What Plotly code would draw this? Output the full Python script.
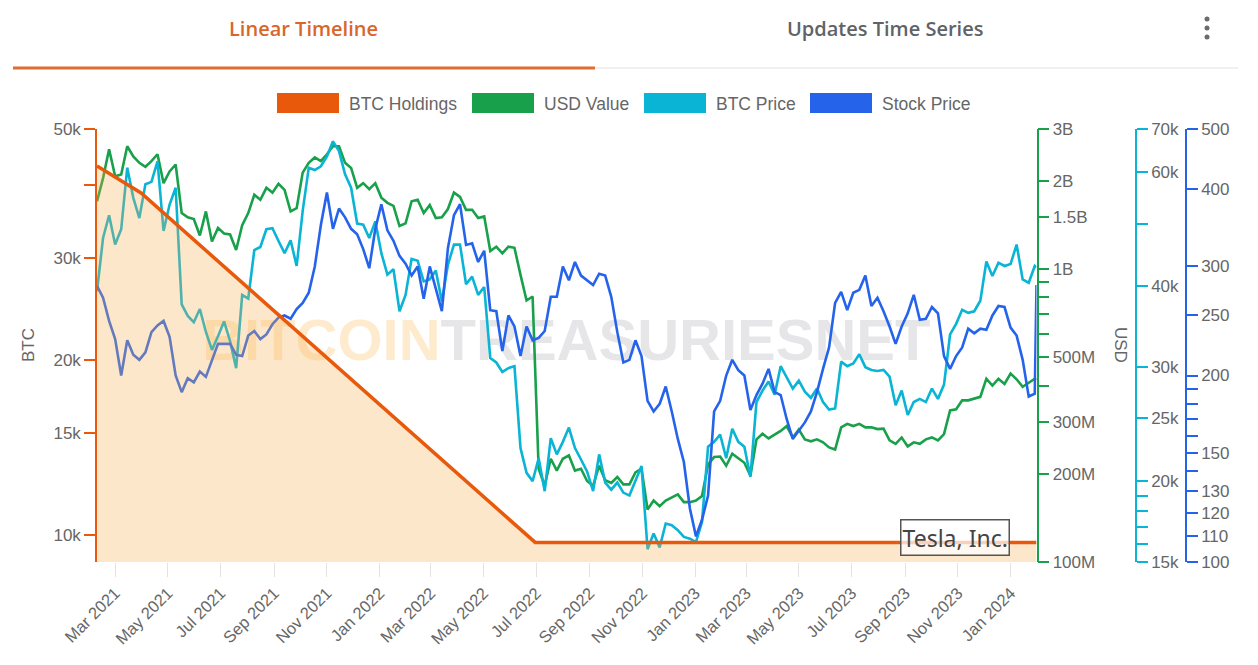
import math
import pandas as pd
import plotly.graph_objects as go

# ---------------- data ----------------
week_dates = list(pd.date_range("2021-02-08", periods=156, freq="7D").strftime("%Y-%m-%d")) + ["2024-01-31"]

btc_price_k = [
    39.3, 47.5, 51.5, 46.4, 49.0, 61.0, 54.8, 51.0, 57.5, 58.0,
    62.4, 48.7, 53.5, 56.8, 37.5, 36.0, 35.2, 36.9, 34.0, 31.9,
    33.5, 35.3, 32.9, 29.9, 38.8, 38.3, 45.5, 46.0, 49.0, 49.2,
    47.0, 45.0, 47.1, 43.0, 52.3, 61.0, 60.5, 61.3, 63.5, 67.0,
    64.7, 59.6, 56.8, 50.0, 49.8, 47.5, 50.4, 45.0, 41.7, 42.5,
    36.6, 38.8, 44.1, 43.8, 40.7, 41.0, 42.3, 37.9, 43.2, 46.4,
    46.4, 40.3, 41.4, 38.8, 39.9, 31.0, 30.5, 29.5, 29.9, 30.1,
    22.5, 20.6, 20.0, 21.7, 19.3, 23.3, 22.0, 23.0, 24.2, 22.5,
    21.6, 20.7, 19.3, 22.0, 19.9, 19.4, 19.9, 19.2, 19.0, 20.0,
    21.1, 15.7, 16.6, 15.8, 17.2, 17.1, 16.8, 16.4, 16.3, 16.1,
    17.3, 22.6, 23.0, 23.6, 21.7, 24.1, 23.0, 22.6, 20.3, 26.5,
    27.6, 28.5, 27.2, 30.1, 29.0, 27.8, 28.6, 27.5, 26.9, 27.8,
    26.5, 25.8, 25.9, 30.6, 30.1, 30.4, 31.4, 30.0, 29.7, 29.6,
    29.7, 29.0, 26.2, 27.6, 25.3, 26.5, 26.8, 26.5, 27.8, 26.8,
    28.2, 33.7, 35.0, 36.8, 36.4, 36.6, 38.0, 43.7, 41.5, 43.5,
    43.0, 43.3, 46.4, 41.0, 40.5, 43.0, 42.8,
]

usd_value_m = [
    1700, 2040, 2560, 2070, 2100, 2620, 2420, 2300, 2230, 2330,
    2460, 1960, 2150, 2270, 1550, 1500, 1480, 1300, 1570, 1240,
    1380, 1320, 1310, 1160, 1410, 1550, 1790, 1720, 1890, 1820,
    1950, 1860, 1570, 1610, 2130, 2300, 2400, 2330, 2460, 2620,
    2620, 2300, 2210, 1890, 1960, 1870, 1960, 1750, 1680, 1640,
    1400, 1430, 1700, 1720, 1550, 1650, 1490, 1500, 1600, 1820,
    1760, 1590, 1590, 1490, 1510, 1150, 1190, 1130, 1190, 1180,
    954, 780, 805, 208, 182, 225, 205, 225, 231, 205,
    208, 189, 182, 213, 190, 186, 195, 184, 184, 202,
    208, 151, 162, 155, 162, 166, 170, 160, 160, 162,
    168, 215, 228, 229, 213, 234, 225, 218, 197, 262,
    274, 264, 272, 280, 291, 266, 283, 262, 258, 262,
    256, 246, 242, 288, 296, 291, 296, 288, 288, 284,
    285, 260, 253, 266, 248, 256, 253, 262, 266, 260,
    273, 329, 332, 356, 356, 360, 366, 422, 400, 422,
    405, 439, 420, 396, 410, 422, 418,
]

stock_price = [
    279, 267, 245, 229, 200, 228, 216, 212, 218, 235,
    241, 245, 231, 200, 188, 198, 195, 203, 199, 212,
    225, 225, 225, 216, 215, 232, 236, 229, 233, 242,
    248, 250, 247, 256, 262, 272, 300, 350, 395, 345,
    372, 360, 345, 338, 320, 298, 345, 378, 343, 330,
    312, 303, 290, 300, 266, 300, 275, 254, 321, 363,
    378, 325, 327, 305, 318, 255, 254, 219, 250, 240,
    215, 240, 228, 230, 236, 268, 268, 300, 285, 305,
    290, 285, 280, 292, 290, 268, 235, 210, 212, 228,
    215, 182, 175, 180, 192, 175, 158, 145, 122, 110,
    117, 128, 175, 182, 200, 212, 204, 200, 176, 186,
    194, 205, 188, 186, 170, 158, 163, 168, 175, 188,
    205, 222, 262, 273, 255, 272, 275, 290, 259, 267,
    254, 240, 225, 240, 252, 270, 246, 247, 258, 252,
    215, 205, 215, 222, 238, 234, 238, 237, 250, 259,
    258, 239, 232, 212, 185, 187, 280,
]

holdings_dates = ["2021-02-08", "2021-03-31", "2022-06-30", "2022-09-30", "2022-12-31",
                  "2023-03-31", "2023-06-30", "2023-09-30", "2023-12-31", "2024-01-31"]
btc_holdings = [43200, 38800, 9720, 9720, 9720, 9720, 9720, 9720, 9720, 9720]

legend_labels = ["BTC Holdings", "USD Value", "BTC Price", "Stock Price"]

btc_ticks = [10000, 15000, 20000, 30000, 40000, 50000]
btc_ticktext = ["10k", "15k", "20k", "30k", "", "50k"]
usd_ticks = [1e8, 2e8, 3e8, 4e8, 5e8, 6e8, 7e8, 8e8, 9e8, 1e9, 1.5e9, 2e9, 3e9]
usd_ticktext = ["100M", "200M", "300M", "", "500M", "", "", "", "", "1B", "1.5B", "2B", "3B"]
price_ticks = [15000, 16000, 17000, 18000, 19000, 20000, 25000, 30000, 40000, 50000, 60000, 70000]
price_ticktext = ["15k", "", "", "", "", "20k", "25k", "30k", "40k", "", "60k", "70k"]
stock_ticks = [100, 110, 120, 130, 140, 150, 160, 170, 180, 190, 200, 250, 300, 400, 500]
stock_ticktext = ["100", "110", "120", "130", "", "150", "", "", "", "", "200", "250", "300", "400", "500"]

# ---------------- style ----------------
ORANGE = "#e8590c"
GREEN = "#18a04a"
CYAN = "#0ab4d4"
BLUE = "#2563eb"
FILL = "rgba(250,175,80,0.30)"
TXT = "#666666"
FONT = "Liberation Sans, Arial, sans-serif"

# the page body has an 8px margin: the figure is sized/offset to compensate
OFF = 8
W, H = 1242, 649
ML, MR, MT, MB = 97 - OFF, 12, 129 - OFF, H - (562 - OFF)
PW = W - ML - MR
PH = H - MT - MB


def px(x):
    """screen x pixel -> paper fraction"""
    return (x - OFF - ML) / PW


def py(y):
    """screen y pixel -> paper fraction"""
    return (H - MB - (y - OFF)) / PH


btc_range = [math.log10(8995), math.log10(50000)]
usd_range = [8, math.log10(3e9)]
price_range = [math.log10(15000), math.log10(70000)]
stock_range = [2, math.log10(500)]

fig = go.Figure()

# watermark (drawn first, underneath the lines)
t0 = pd.Timestamp(week_dates[0])
t1 = pd.Timestamp(week_dates[-1])
mid_date = (t0 + (t1 - t0) / 2).strftime("%Y-%m-%d")
fig.add_trace(go.Scatter(
    x=[mid_date], y=[10 ** (sum(usd_range) / 2)], mode="text",
    text=['<span style="color:rgba(252,178,60,0.26)">BITCOIN</span>'
          '<span style="color:rgba(105,105,125,0.17)">TREASURIESNET</span>'],
    textfont=dict(family="Liberation Sans Narrow, Liberation Sans, sans-serif",
                  size=58, weight="bold"),
    textposition="middle center", hoverinfo="skip", showlegend=False, yaxis="y",
))

fig.add_trace(go.Scatter(x=week_dates, y=[v * 1e6 for v in usd_value_m], name="USD Value",
                         mode="lines", line=dict(color=GREEN, width=2.6), yaxis="y"))
fig.add_trace(go.Scatter(x=week_dates, y=[v * 1000 for v in btc_price_k], name="BTC Price",
                         mode="lines", line=dict(color=CYAN, width=2.6), yaxis="y2"))
fig.add_trace(go.Scatter(x=week_dates, y=stock_price, name="Stock Price",
                         mode="lines", line=dict(color=BLUE, width=2.6), yaxis="y3"))
fig.add_trace(go.Scatter(x=holdings_dates, y=btc_holdings, name="BTC Holdings",
                         mode="lines", line=dict(color=ORANGE, width=3.5),
                         fill="tozeroy", fillcolor=FILL, yaxis="y4"))

tickfont = dict(family=FONT, size=17, color=TXT)

fig.update_layout(
    width=W, height=H,
    margin=dict(l=ML, r=MR, t=MT, b=MB, autoexpand=False),
    paper_bgcolor="white", plot_bgcolor="white",
    showlegend=False,
    font=dict(family=FONT, color=TXT),
    xaxis=dict(
        domain=[0, px(1036.5)], type="date", tickformat="%b %Y", dtick="M2",
        tick0="2021-03-01", tickangle=-45, ticks="outside", ticklen=14,
        tickcolor="#e3e3e3", showgrid=False, showline=False, zeroline=False,
        tickfont=dict(family=FONT, size=16.5, color=TXT), automargin=False,
    ),
    yaxis=dict(
        type="log", range=usd_range, side="right", anchor="x",
        showline=True, linecolor=GREEN, linewidth=1.5,
        ticks="outside", ticklen=11, tickcolor=GREEN, tickwidth=1.5,
        tickvals=usd_ticks, ticktext=usd_ticktext, showgrid=False, zeroline=False,
        tickfont=tickfont, automargin=False,
    ),
    yaxis2=dict(
        type="log", range=price_range, side="right", overlaying="y", anchor="free",
        position=px(1136), showline=True, linecolor=CYAN, linewidth=1.5,
        ticks="outside", ticklen=11, tickcolor=CYAN, tickwidth=1.5,
        tickvals=price_ticks, ticktext=price_ticktext, showgrid=False, zeroline=False,
        tickfont=tickfont, automargin=False,
    ),
    yaxis3=dict(
        type="log", range=stock_range, side="right", overlaying="y", anchor="free",
        position=px(1186), showline=True, linecolor=BLUE, linewidth=1.5,
        ticks="outside", ticklen=11, tickcolor=BLUE, tickwidth=1.5,
        tickvals=stock_ticks, ticktext=stock_ticktext, showgrid=False, zeroline=False,
        tickfont=tickfont, automargin=False,
    ),
    yaxis4=dict(
        type="log", range=btc_range, side="left", overlaying="y", anchor="x",
        showline=True, linecolor=ORANGE, linewidth=1.5,
        ticks="outside", ticklen=11, tickcolor=ORANGE, tickwidth=1.5,
        tickvals=btc_ticks, ticktext=btc_ticktext, showgrid=False, zeroline=False,
        tickfont=tickfont, automargin=False,
    ),
)

shapes = []
annotations = []


def label(x, y, text, font, **kw):
    d = dict(x=px(x), y=py(y), xref="paper", yref="paper", text=text, showarrow=False,
             xanchor="center", yanchor="middle", font=font)
    d.update(kw)
    annotations.append(d)


# axis titles
label(28, 345, "BTC", dict(family=FONT, size=17, color=TXT), textangle=-90)
label(1121, 345, "USD", dict(family=FONT, size=17, color=TXT), textangle=90)

# tabs
label(303, 29, "Linear Timeline",
      dict(family="Open Sans, sans-serif", size=20, color="#d9662b", weight=600))
label(885, 29, "Updates Time Series",
      dict(family="Open Sans, sans-serif", size=20, color="#5f6368", weight=600))
shapes.append(dict(type="line", xref="paper", yref="paper", x0=px(595), x1=px(1238),
                   y0=py(68), y1=py(68), line=dict(color="#e2e2e2", width=1)))
shapes.append(dict(type="line", xref="paper", yref="paper", x0=px(13), x1=px(595),
                   y0=py(68), y1=py(68), line=dict(color="#df6d30", width=3)))
for cy in (19, 28, 37):
    shapes.append(dict(type="circle", xref="paper", yref="paper",
                       x0=px(1204.5), x1=px(1209.5), y0=py(cy + 2.5), y1=py(cy - 2.5),
                       fillcolor="#6b6b6b", line=dict(width=0)))

# legend
legend_colors = [ORANGE, GREEN, CYAN, BLUE]
box_x = [277, 472, 644, 810]
for lbl, col, bx in zip(legend_labels, legend_colors, box_x):
    shapes.append(dict(type="rect", xref="paper", yref="paper", x0=px(bx), x1=px(bx + 62),
                       y0=py(113), y1=py(93), fillcolor=col, line=dict(width=0)))
    label(bx + 70, 103.5, lbl, dict(family=FONT, size=17.5, color=TXT), xanchor="left")

# company label
label(955, 537, "Tesla, Inc.", dict(family="Noto Sans, sans-serif", size=23, color="#444444"),
      bgcolor="rgba(255,255,255,0.72)", bordercolor="#555555", borderwidth=1.5, borderpad=1)

fig.update_layout(shapes=shapes, annotations=annotations)

fig.write_html("out.html")
